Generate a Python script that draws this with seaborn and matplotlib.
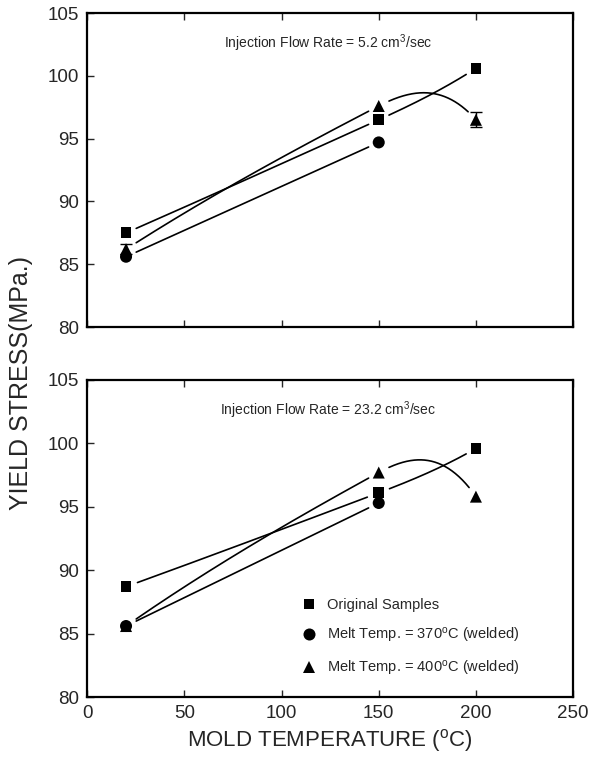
import numpy as np
import pandas as pd
import matplotlib
matplotlib.use("Agg")
import matplotlib.pyplot as plt
import seaborn as sns

# Mold temperatures (deg C) at which the samples were molded
mold_temp = [20, 150, 200]

# Injection flow rate 5.2 cm3/sec
low_original = [87.5, 96.5, 100.6]
low_melt370 = [85.6, 94.7]
low_melt400 = [86.2, 97.6, 96.5]
low_melt400_err = [0.4, 0.0, 0.6]

# Injection flow rate 23.2 cm3/sec
high_original = [88.7, 96.1, 99.6]
high_melt370 = [85.6, 95.3]
high_melt400 = [85.6, 97.7, 95.8]

series_labels = ["Original Samples",
                 "Melt Temp. = 370$^{o}$C (welded)",
                 "Melt Temp. = 400$^{o}$C (welded)"]
flow_labels = ["Injection Flow Rate = 5.2 cm$^{3}$/sec",
               "Injection Flow Rate = 23.2 cm$^{3}$/sec"]
y_ticks = [80, 85, 90, 95, 100, 105]
x_ticks = [0, 50, 100, 150, 200, 250]

sns.set_theme(style="ticks")
plt.rcParams["font.family"] = ["Liberation Sans", "DejaVu Sans"]
plt.rcParams["mathtext.default"] = "regular"


def smooth_curve(xs, ys, weight=0.75, n=200):
    """Piecewise cubic Hermite curve through the points.  Interior slopes lean
    on the left-hand secant; end slopes are extrapolated from the neighbour."""
    xs = np.asarray(xs, float)
    ys = np.asarray(ys, float)
    k = len(xs)
    sec = np.diff(ys) / np.diff(xs)
    if k == 2:
        m = np.array([sec[0], sec[0]])
    else:
        m = np.zeros(k)
        for i in range(1, k - 1):
            chord = (ys[i + 1] - ys[i - 1]) / (xs[i + 1] - xs[i - 1])
            m[i] = weight * sec[i - 1] + (1 - weight) * chord
        m[0] = 2.5 * sec[0] - 1.5 * m[1]
        m[-1] = 2.5 * sec[-1] - 1.5 * m[-2]
    segs = []
    for i in range(k - 1):
        h = xs[i + 1] - xs[i]
        t = np.linspace(0, 1, n)
        h00 = 2 * t**3 - 3 * t**2 + 1
        h10 = t**3 - 2 * t**2 + t
        h01 = -2 * t**3 + 3 * t**2
        h11 = t**3 - t**2
        xx = xs[i] + t * h
        yy = h00 * ys[i] + h10 * h * m[i] + h01 * ys[i + 1] + h11 * h * m[i + 1]
        segs.append(np.column_stack([xx, yy]))
    return segs


def trimmed(seg, px, py, sx, sy, radius=11):
    """Drop the part of a curve lying within `radius` pixels of a marker."""
    keep = np.ones(len(seg), bool)
    for x0, y0 in zip(px, py):
        d = np.hypot((seg[:, 0] - x0) * sx, (seg[:, 1] - y0) * sy)
        keep &= d > radius
    return seg[keep]


markers = {series_labels[0]: "s", series_labels[1]: "o", series_labels[2]: "^"}
sizes = {series_labels[0]: 60, series_labels[1]: 75, series_labels[2]: 75}

fig = plt.figure(figsize=(5.97, 7.66), dpi=100)
ax_top = fig.add_axes([0.146, 0.573, 0.814, 0.410])
ax_bot = fig.add_axes([0.146, 0.090, 0.814, 0.414])

panels = [
    (ax_top, [low_original, low_melt370, low_melt400], flow_labels[0]),
    (ax_bot, [high_original, high_melt370, high_melt400], flow_labels[1]),
]

for ax, values, title in panels:
    ax.set_xlim(0, 250)
    ax.set_ylim(80, 105)
    bbox = ax.get_position()
    sx = bbox.width * fig.get_figwidth() * fig.dpi / 250.0
    sy = bbox.height * fig.get_figheight() * fig.dpi / 25.0

    rows = []
    for lab, vals in zip(series_labels, values):
        for xv, yv in zip(mold_temp, vals):
            rows.append({"mold": xv, "stress": yv, "series": lab})
    df = pd.DataFrame(rows)

    for lab, vals in zip(series_labels, values):
        xs = mold_temp[:len(vals)]
        for seg in smooth_curve(xs, vals):
            seg = trimmed(seg, xs, vals, sx, sy)
            ax.plot(seg[:, 0], seg[:, 1], color="black", lw=1.2, zorder=2)

    sns.scatterplot(data=df, x="mold", y="stress", style="series",
                    markers=markers, size="series", sizes=sizes,
                    color="black", edgecolor="black", linewidth=0,
                    legend=(ax is ax_bot), ax=ax, zorder=3)

    ax.text(124, 102.6, title, ha="center", va="center", fontsize=10)

    ax.set_xlim(0, 250)
    ax.set_ylim(80, 105)
    ax.set_xticks(x_ticks)
    ax.set_yticks(y_ticks)
    ax.tick_params(direction="in", length=5, width=1, labelsize=13.5,
                   top=True, right=False, pad=6)
    for sp in ax.spines.values():
        sp.set_visible(True)
        sp.set_linewidth(1.6)
        sp.set_color("black")
    ax.set_xlabel("")
    ax.set_ylabel("")

# error bars on the 400 C series at 5.2 cm3/sec
err_x = [x for x, e in zip(mold_temp, low_melt400_err) if e > 0]
err_y = [y for y, e in zip(low_melt400, low_melt400_err) if e > 0]
err_e = [e for e in low_melt400_err if e > 0]
ax_top.errorbar(err_x, err_y, yerr=err_e, fmt="none", ecolor="black",
                elinewidth=1, capsize=4, capthick=1, zorder=2)

ax_top.tick_params(labelbottom=False)

leg = ax_bot.legend(loc="upper left", bbox_to_anchor=(0.43, 0.335),
                    frameon=False, fontsize=10.5, handlelength=0.8,
                    handletextpad=0.8, labelspacing=0.95, borderpad=0)
for h in leg.legend_handles:
    h.set_color("black")

ax_bot.set_xlabel("MOLD TEMPERATURE ($^{o}$C)", fontsize=16, labelpad=3)
fig.text(0.036, 0.50, "YIELD STRESS(MPa.)", rotation=90, ha="center",
         va="center", fontsize=18)

fig.savefig("out.png", dpi=100, facecolor="white")
